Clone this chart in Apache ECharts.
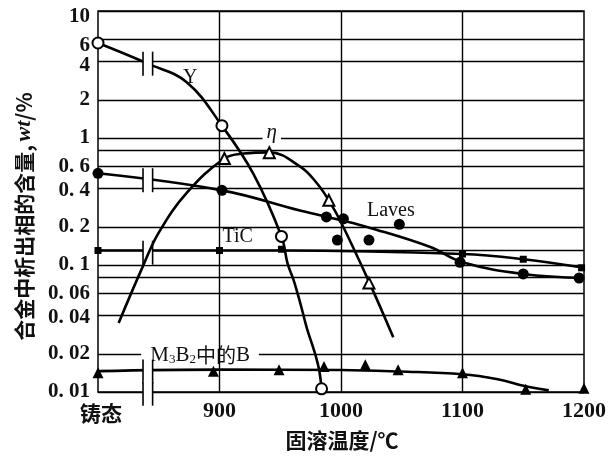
<!DOCTYPE html>
<html>
<head>
<meta charset="utf-8">
<script src="https://cdn.jsdelivr.net/npm/echarts@6/dist/echarts.min.js"></script>
<style>
html,body{margin:0;padding:0;background:#fff;}
#c{width:609px;height:462px;}
</style>
</head>
<body>
<div id="c"></div>
<script>
// ---------- axis ticks ----------
const xTicks = [800, 900, 1000, 1100, 1200];
const xTickLabels = ['铸态', '900', '1000', '1100', '1200'];
const yTickValues = [10, 6, 4, 2, 1, 0.6, 0.4, 0.2, 0.1, 0.06, 0.04, 0.02, 0.01];
const yTickLabels = ['10', '6', '4', '2', '1', '0. 6', '0. 4', '0. 2', '0. 1', '0. 06', '0. 04', '0. 02', '0. 01'];
const yExtraGrid = [0.8, 0.13, 0.08];
const xGrid = [900, 1000, 1100];

// ---------- data: Y phase (open circles) ----------
const yCurve = [[800,5.6],[841,3.85],[873,2.75],[902,1.25],[928,0.52],[951,0.168],[956,0.103],[961,0.076],[967,0.048],[972,0.0316],[978,0.021],[982,0.0149],[984,0.0106]];
const yPoints = [[800,5.6],[902,1.25],[951,0.168],[984,0.0106]];

// ---------- data: eta phase (open triangles) ----------
const etaCurve = [[817,0.035],[837,0.098],[850,0.18],[873,0.37],[904,0.69],[920,0.754],[941,0.77],[967,0.59],[980,0.442],[990,0.323],[1000,0.217],[1023,0.074],[1043,0.027]];
const etaPoints = [[904,0.69],[941,0.767],[990,0.323],[1023,0.072]];

// ---------- data: Laves phase (filled circles) ----------
const lavesCurve = [[800,0.527],[902,0.387],[967,0.267],[1000,0.225],[1024,0.196],[1073,0.139],[1100,0.105],[1150,0.085],[1200,0.079]];
const lavesPoints = [[800,0.527],[902,0.387],[988,0.239],[1002,0.231],[997,0.157],[1023,0.157],[1048,0.209],[1098,0.105],[1150,0.085],[1196,0.079]];

// ---------- data: TiC (filled squares) ----------
const ticCurve = [[800,0.13],[900,0.13],[951,0.13],[1100,0.122],[1150,0.111],[1200,0.095]];
const ticPoints = [[800,0.13],[900,0.13],[951,0.133],[1100,0.122],[1150,0.111],[1198,0.095]];

// ---------- data: B in M3B2 (filled triangles) ----------
const m3b2Curve = [[800,0.0146],[900,0.015],[1000,0.0149],[1048,0.0145],[1100,0.0138],[1129,0.0126],[1152,0.0111],[1171,0.0103]];
const m3b2Points = [[800,0.0142],[895,0.0146],[949,0.015],[986,0.0159],[1020,0.0164],[1047,0.015],[1100,0.0142],[1152,0.0105],[1200,0.0107]];

// ---------- axis-break marks (x, level) ----------
const breakX = 841;
const breakLevels = [3.85, 0.465, 0.125, 0.0145, 0.0097];

const SERIF = '"Liberation Serif","Times New Roman","Noto Sans CJK SC",serif';
const CJK = '"Noto Sans CJK SC","Liberation Serif",sans-serif';
const INK = '#111';

const chart = echarts.init(document.getElementById('c'));

// small label nudges so the upper tick labels sit as in the printed figure
const labelNudge = { 10: 6, 6: 6, 4: 4, 0.4: 2, 0.04: 2 };
const hGrid = yTickValues.map((v, i) => ({
    yAxis: v,
    label: { show: true, formatter: yTickLabels[i], offset: [0, labelNudge[v] || 0] }
  }))
  .concat(yExtraGrid.map(v => ({ yAxis: v, label: { show: false } })));
const vGrid = xGrid.map(v => ({ xAxis: v }));

function note(coord, text) {
  return { coord: coord, value: 0, label: { formatter: text } };
}

const labelBase = { show: true, position: 'inside', color: INK, fontFamily: SERIF, fontSize: 20 };
const SMOOTH = 0.4;

const option = {
  animation: false,
  backgroundColor: '#fff',
  grid: { left: 98, right: 22, top: 11, bottom: 70, show: true, borderColor: '#000', borderWidth: 1.5, backgroundColor: 'transparent' },
  xAxis: {
    type: 'value', min: 800, max: 1200, interval: 100,
    axisLine: { show: false }, axisTick: { show: false }, splitLine: { show: false },
    axisLabel: {
      margin: 8, color: INK, fontFamily: SERIF, fontWeight: 'bold', fontSize: 22,
      formatter: v => { const i = xTicks.indexOf(v); return i === 0 ? '{c|' + xTickLabels[0] + '}' : (i >= 0 ? xTickLabels[i] : ''); },
      rich: { c: { fontFamily: CJK, fontWeight: 'bold', fontSize: 21, color: INK, padding: [3, 0, 0, 6] } }
    },
    name: '固溶温度/℃', nameLocation: 'middle', nameGap: 38,
    nameTextStyle: { fontFamily: CJK, fontWeight: 'bold', fontSize: 21, color: INK, padding: [0, 0, 0, 2] }
  },
  yAxis: {
    type: 'log', logBase: 10, min: 0.01, max: 10,
    axisLine: { show: false }, axisTick: { show: false }, splitLine: { show: false }, axisLabel: { show: false },
    name: '{a|合金中析出相的含量,} {i|wt}{a|/%}', nameLocation: 'middle', nameRotate: 90, nameGap: 63,
    nameTextStyle: {
      padding: [0, 30, 0, 0],
      rich: {
        a: { fontFamily: CJK, fontWeight: 'bold', fontSize: 21, color: INK },
        i: { fontFamily: SERIF, fontStyle: 'italic', fontWeight: 'bold', fontSize: 22, color: INK }
      }
    }
  },
  series: [
    {
      name: 'TiC', type: 'line', data: ticCurve, smooth: SMOOTH, showSymbol: false, clip: false, z: 4,
      lineStyle: { color: '#000', width: 2.6 },
      markLine: {
        silent: true, z: 1, animation: false, symbol: ['none', 'none'],
        lineStyle: { color: '#000', width: 1.4, type: 'solid' },
        label: { position: 'start', distance: 8, color: INK, fontFamily: SERIF, fontWeight: 'bold', fontSize: 21 },
        emphasis: { disabled: true },
        data: hGrid
      },
      markPoint: {
        z: 8, symbol: 'rect', symbolSize: 1, itemStyle: { color: 'rgba(0,0,0,0)' }, label: labelBase,
        data: [note([915, 0.166], 'TiC')]
      }
    },
    {
      name: 'Laves', type: 'line', data: lavesCurve, smooth: SMOOTH, showSymbol: false, clip: false, z: 4,
      lineStyle: { color: '#000', width: 2.6 },
      markLine: {
        silent: true, z: 3, animation: false, symbol: ['none', 'none'],
        lineStyle: { color: '#000', width: 1.4, type: 'solid' },
        label: { show: false }, emphasis: { disabled: true },
        data: vGrid
      },
      markPoint: {
        z: 8, symbol: 'rect', symbolSize: 1, itemStyle: { color: 'rgba(0,0,0,0)' }, label: labelBase,
        data: [note([1041, 0.265], 'Laves')]
      }
    },
    {
      name: 'Y', type: 'line', data: yCurve, smooth: SMOOTH, showSymbol: false, clip: false, z: 4,
      lineStyle: { color: '#000', width: 2.6 },
      markPoint: {
        z: 8, symbol: 'rect', symbolSize: 1, itemStyle: { color: 'rgba(0,0,0,0)' }, label: labelBase,
        data: [note([876, 3.0], 'Y')]
      }
    },
    {
      name: 'M3B2', type: 'line', data: m3b2Curve, smooth: SMOOTH, showSymbol: false, clip: false, z: 4,
      lineStyle: { color: '#000', width: 2.6 },
      markPoint: {
        z: 2, symbol: 'rect', symbolSize: 1, itemStyle: { color: 'rgba(0,0,0,0)' },
        label: {
          show: true, position: 'inside', backgroundColor: '#fff', padding: [1, 9, 1, 9],
          color: INK, fontFamily: SERIF, fontSize: 21, lineHeight: 22,
          rich: {
            s: { fontFamily: SERIF, fontSize: 13, color: INK, verticalAlign: 'bottom', lineHeight: 14, padding: [12, 0, 0, 0] },
            c: { fontFamily: CJK, fontSize: 20, color: INK, lineHeight: 22 }
          }
        },
        data: [note([884, 0.0195], 'M{s|3}B{s|2}{c|中的}B')]
      }
    },
    {
      name: 'breaks', type: 'custom', z: 5, clip: false, silent: true,
      data: breakLevels.map(v => [breakX, v]),
      encode: { x: 0, y: 1 },
      renderItem: function (params, api) {
        const p = api.coord([api.value(0), api.value(1)]);
        const g = 4.8, h = 12;
        return {
          type: 'group',
          children: [
            { type: 'rect', shape: { x: p[0] - g, y: p[1] - h, width: 2 * g, height: 2 * h }, style: { fill: '#fff' } },
            { type: 'line', shape: { x1: p[0] - g, y1: p[1] - h, x2: p[0] - g, y2: p[1] + h }, style: { stroke: '#000', lineWidth: 1.6 } },
            { type: 'line', shape: { x1: p[0] + g, y1: p[1] - h, x2: p[0] + g, y2: p[1] + h }, style: { stroke: '#000', lineWidth: 1.6 } }
          ]
        };
      }
    },
    {
      name: 'eta', type: 'line', data: etaCurve, smooth: SMOOTH, showSymbol: false, clip: false, z: 6,
      lineStyle: { color: '#000', width: 2.6 },
      markPoint: {
        z: 2, symbol: 'rect', symbolSize: 1, itemStyle: { color: 'rgba(0,0,0,0)' },
        label: { show: true, position: 'inside', backgroundColor: '#fff', padding: [0, 4], color: INK, fontFamily: SERIF, fontStyle: 'italic', fontSize: 21 },
        data: [note([943, 1.1], 'η')]
      }
    },
    {
      name: 'Y pts', type: 'scatter', data: yPoints, z: 7, clip: false, symbol: 'circle', symbolSize: 11,
      itemStyle: { color: '#fff', borderColor: '#000', borderWidth: 2, opacity: 1 }
    },
    {
      name: 'eta pts', type: 'scatter', data: etaPoints, z: 7, clip: false, symbol: 'triangle', symbolSize: 11,
      itemStyle: { color: '#fff', borderColor: '#000', borderWidth: 2, opacity: 1 }
    },
    {
      name: 'Laves pts', type: 'scatter', data: lavesPoints, z: 7, clip: false, symbol: 'circle', symbolSize: 11,
      itemStyle: { color: '#000', opacity: 1 }
    },
    {
      name: 'TiC pts', type: 'scatter', data: ticPoints, z: 7, clip: false, symbol: 'rect', symbolSize: 7,
      itemStyle: { color: '#000', opacity: 1 }
    },
    {
      name: 'M3B2 pts', type: 'scatter', data: m3b2Points, z: 7, clip: false, symbol: 'triangle', symbolSize: 11,
      itemStyle: { color: '#000', opacity: 1 }
    }
  ]
};
chart.setOption(option);
</script>
</body>
</html>
